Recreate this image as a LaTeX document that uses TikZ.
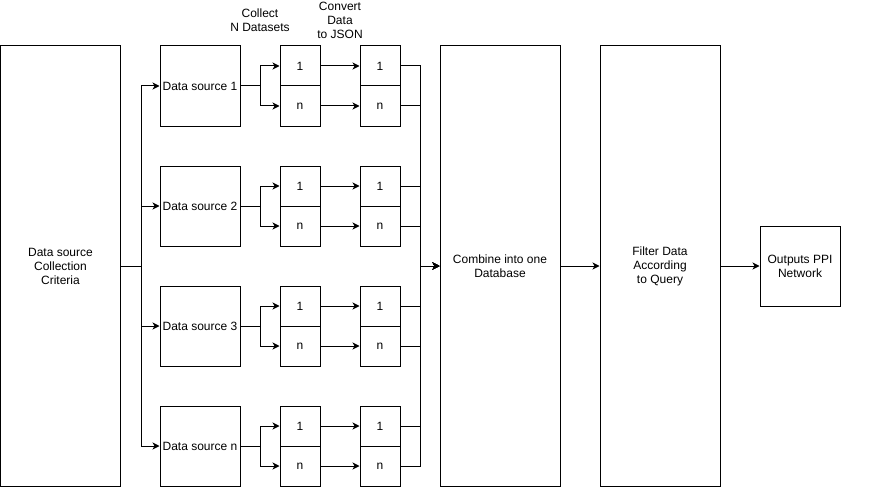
\documentclass[tikz,border=0pt]{standalone}
\usepackage{fontspec}
\setmainfont{Liberation Sans}
\usetikzlibrary{arrows.meta}
\begin{document}
\begin{tikzpicture}[x=1pt,y=-1pt,
  every path/.style={line width=1pt},
  txt/.style={font=\fontsize{12}{14}\selectfont, align=center, inner sep=0pt},
  box/.style={txt, draw, line width=1pt, line join=miter},
  bigbox/.style={box, minimum width=120pt, minimum height=440pt},
  dsbox/.style={box, minimum width=80pt, minimum height=80pt},
  cell/.style={box, minimum width=40pt, minimum height=40pt},
  arr/.style={-{Stealth[length=7pt,width=7pt,inset=2pt]}, line width=1pt},
  ln/.style={line width=1pt}]
\useasboundingbox (0,0) rectangle (871,487);

\node[bigbox] (src) at (60.5,266) {Data source\\Collection\\Criteria};
\node[bigbox] (comb) at (500,266) {Combine into one\\Database};
\node[bigbox] (filt) at (660,266) {Filter Data\\According\\to Query};
\node[dsbox] (out) at (800,266) {Outputs PPI\\Network};

\node[txt] (lab1) at (260,20) {Collect\\N Datasets};
\node[txt] (lab2) at (340,20) {Convert\\Data\\to JSON};

\foreach \k/\name in {0/1,1/2,2/3,3/n}{
  \pgfmathsetmacro{\yc}{86+120*\k}
  \node[dsbox] (ds\k) at (200,\yc) {Data source \name};
  \node[cell] (a\k) at (300,\yc-20) {1};
  \node[cell] (b\k) at (300,\yc+20) {n};
  \node[cell] (c\k) at (380,\yc-20) {1};
  \node[cell] (d\k) at (380,\yc+20) {n};
  \draw[arr] (src.east) -- ++(20,0) |- (ds\k.west);
  \draw[arr] (ds\k.east) -- ++(20,0) |- (a\k.west);
  \draw[arr] (ds\k.east) -- ++(20,0) |- (b\k.west);
  \draw[arr] (a\k) -- (c\k);
  \draw[arr] (b\k) -- (d\k);
  \draw[arr] (c\k.east) -- ++(20,0) |- (comb.west);
  \draw[arr] (d\k.east) -- ++(20,0) |- (comb.west);
}
\draw[arr] (comb) -- (filt);
\draw[arr] (filt) -- (out);
\end{tikzpicture}
\end{document}
